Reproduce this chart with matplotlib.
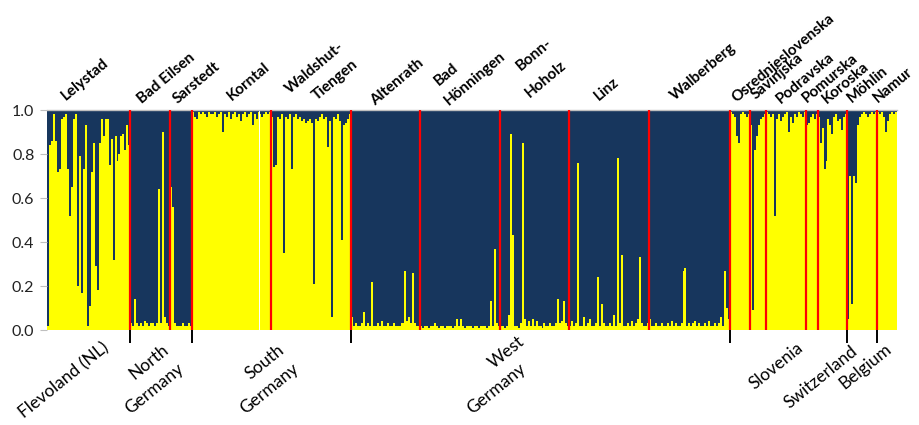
import matplotlib
matplotlib.use("Agg")
import matplotlib.pyplot as plt
import numpy as np

# ---------------- data: proportion of the "yellow" cluster per individual ----------------
lelystad = [0.02, 0.84, 0.86, 0.98, 0.86, 0.72, 0.73, 0.96, 0.97, 0.98, 0.73, 0.52, 0.65, 0.96,
            0.98, 0.20, 0.79, 0.17, 0.73, 0.93, 0.02, 0.11, 0.72, 0.85, 0.29, 0.18, 0.85, 0.96,
            0.88, 0.96, 0.96, 0.75, 0.87, 0.32, 0.88, 0.77, 0.80, 0.88, 0.89, 0.82, 0.93, 0.84]
bad_eilsen = [0.03, 0.02, 0.14, 0.03, 0.02, 0.03, 0.02, 0.04, 0.03, 0.02, 0.03, 0.03, 0.02, 0.03,
              0.64, 0.03, 0.90, 0.06, 0.03, 0.02]
sarstedt = [0.65, 0.56, 0.03, 0.02, 0.02, 0.02, 0.03, 0.02, 0.02, 0.03, 0.02]
korntal = [0.99, 0.97, 0.96, 0.99, 0.98, 0.99, 0.98, 0.97, 0.99, 0.98, 0.98, 0.99, 0.97, 0.98,
           0.99, 0.90, 0.98, 0.97, 0.99, 0.96, 0.98, 0.99, 0.97, 0.98, 0.95, 0.98, 0.99, 0.97,
           0.98, 0.99, 0.93, 0.98, 0.96, 0.99, 0.98, 0.97, 0.98, 0.99, 0.98, 0.99]
waldshut = [0.97, 0.74, 0.75, 0.97, 0.96, 0.98, 0.35, 0.97, 0.96, 0.98, 0.73, 0.97, 0.98, 0.96,
            0.97, 0.95, 0.96, 0.94, 0.95, 0.96, 0.94, 0.21, 0.96, 0.95, 0.97, 0.98, 0.96, 0.97,
            0.83, 0.95, 0.06, 0.97, 0.96, 0.98, 0.95, 0.41, 0.93, 0.94, 0.96, 0.98]
altenrath = [0.06, 0.02, 0.03, 0.02, 0.02, 0.03, 0.08, 0.02, 0.03, 0.02, 0.22, 0.02, 0.02, 0.03,
             0.02, 0.04, 0.02, 0.02, 0.03, 0.02, 0.02, 0.03, 0.02, 0.02, 0.02, 0.03, 0.03, 0.27,
             0.04, 0.06, 0.03, 0.26, 0.03, 0.02, 0.02]
bad_hoenningen = [0.02, 0.01, 0.02, 0.02, 0.01, 0.02, 0.02, 0.03, 0.02, 0.01, 0.02, 0.02, 0.01, 0.02,
                  0.02, 0.02, 0.01, 0.02, 0.05, 0.02, 0.05, 0.02, 0.01, 0.02, 0.02, 0.02, 0.01, 0.02,
                  0.02, 0.01, 0.02, 0.02, 0.02, 0.01, 0.02, 0.13, 0.02, 0.37, 0.03, 0.02]
bonn_hoholz = [0.02, 0.02, 0.01, 0.02, 0.07, 0.89, 0.43, 0.02, 0.02, 0.01, 0.03, 0.85, 0.05, 0.02,
               0.04, 0.02, 0.05, 0.02, 0.04, 0.02, 0.02, 0.01, 0.03, 0.02, 0.02, 0.03, 0.02, 0.02,
               0.03, 0.14, 0.03, 0.04, 0.13, 0.03, 0.02]
linz = [0.02, 0.04, 0.02, 0.03, 0.76, 0.02, 0.02, 0.06, 0.02, 0.03, 0.05, 0.02, 0.02, 0.03,
        0.24, 0.02, 0.12, 0.03, 0.02, 0.02, 0.03, 0.02, 0.07, 0.02, 0.78, 0.03, 0.34, 0.02,
        0.02, 0.03, 0.02, 0.04, 0.02, 0.03, 0.05, 0.33, 0.03, 0.02, 0.02, 0.03]
walberberg = [0.05, 0.02, 0.02, 0.03, 0.02, 0.02, 0.03, 0.02, 0.02, 0.03, 0.02, 0.04, 0.02, 0.03,
              0.02, 0.02, 0.03, 0.27, 0.28, 0.02, 0.03, 0.02, 0.03, 0.04, 0.02, 0.03, 0.02, 0.02,
              0.03, 0.02, 0.04, 0.02, 0.02, 0.03, 0.02, 0.03, 0.06, 0.02, 0.27, 0.10, 0.05]
osrednjeslovenska = [0.99, 0.98, 0.97, 0.88, 0.85, 0.98, 0.99, 0.98, 0.97, 0.98]
savinjska = [0.93, 0.09, 0.82, 0.88, 0.93, 0.96, 0.97, 0.98]
podravska = [0.99, 0.98, 0.97, 0.98, 0.52, 0.96, 0.98, 0.95, 0.97, 0.98, 0.99, 0.90, 0.97, 0.94,
             0.98, 0.97, 0.99, 0.98, 0.97, 0.99]
pomurska = [0.93, 0.94, 0.97, 0.98, 0.96, 0.98]
koroska = [0.97, 0.85, 0.92, 0.73, 0.77, 0.96, 0.93, 0.89, 0.97, 0.98, 0.95, 0.96, 0.91, 0.97, 0.98]
moehlin = [0.05, 0.70, 0.12, 0.70, 0.67, 0.93, 0.97, 0.98, 0.99, 0.98, 0.97, 0.98, 0.99, 0.98, 0.99]
namur = [0.99, 0.98, 0.99, 0.97, 0.90, 0.95, 0.98, 0.99, 0.98, 0.99]

population_names = ["Lelystad", "Bad Eilsen", "Sarstedt", "Korntal", "Waldshut-\nTiengen",
                    "Altenrath", "Bad\nHönningen", "Bonn-\nHoholz", "Linz", "Walberberg",
                    "Osrednjeslovenska", "Savinjska", "Podravska", "Pomurska", "Koroska",
                    "Möhlin", "Namur"]
population_values = [lelystad, bad_eilsen, sarstedt, korntal, waldshut, altenrath, bad_hoenningen,
                     bonn_hoholz, linz, walberberg, osrednjeslovenska, savinjska, podravska,
                     pomurska, koroska, moehlin, namur]
region_names = ["Flevoland (NL)", "North\nGermany", "South\nGermany", "West\nGermany",
                "Slovenia", "Switzerland", "Belgium"]
# number of populations belonging to each region (in order)
region_pop_counts = [1, 2, 2, 5, 5, 1, 1]
y_ticks = [0.0, 0.2, 0.4, 0.6, 0.8, 1.0]

# ---------------- figure ----------------
W, H = 920, 425
fig = plt.figure(figsize=(W / 100, H / 100), dpi=100)
ax = fig.add_axes([47 / W, 95 / H, 850 / W, 220 / H])

def px(x, y):
    return x / W, 1 - y / H

YELLOW = "#FFFF00"
NAVY = "#17365D"

yellow = np.concatenate([np.asarray(v, float) for v in population_values])
N = len(yellow)
xs = np.arange(N) + 0.5
ax.bar(xs, yellow, width=1.0, color=YELLOW, linewidth=0, antialiased=False)
ax.bar(xs, 1 - yellow, bottom=yellow, width=1.0, color=NAVY, linewidth=0, antialiased=False)

sizes = [len(v) for v in population_values]
bounds = np.cumsum(sizes)
ax.vlines(bounds[:-1], 0, 1, color="red", linewidth=1.6, zorder=3)

# region boundary ticks
region_ends = np.cumsum(region_pop_counts)
region_bounds = [bounds[i - 1] for i in region_ends[:-1]]

ax.set_xlim(0, N)
ax.set_ylim(0, 1)
ax.set_xticks(region_bounds)
ax.set_xticklabels([])
ax.tick_params(axis="x", length=9, width=1.4, color="black", direction="out")
ax.set_yticks(y_ticks)
ax.set_yticklabels([f"{t:.1f}" for t in y_ticks], fontsize=11.5, fontfamily="Lato", color="#222222")
ax.tick_params(axis="y", length=5, width=0.8, color="#BFBFBF", pad=4)
for s in ["left", "right", "bottom"]:
    ax.spines[s].set_visible(False)
ax.spines["top"].set_color("#BFBFBF")
ax.spines["top"].set_linewidth(1.0)

# population labels (top, bold, rotated)
top_font = dict(fontfamily="Lato", fontweight="bold", fontsize=11, rotation=40,
                rotation_mode="anchor", ha="left", va="baseline", color="black")
top_pos = {
    "Lelystad": (66, 101), "Bad Eilsen": (142, 104), "Sarstedt": (178, 104),
    "Korntal": (232, 101), "Waldshut-": (290, 94), "Tiengen": (317, 101),
    "Altenrath": (375, 106), "Bad": (439, 86), "Hönningen": (449, 106),
    "Bonn-": (521, 71), "Hoholz": (530, 98), "Linz": (599, 101), "Walberberg": (675, 101),
    "Osrednjeslovenska": (736, 103), "Savinjska": (756, 100), "Podravska": (781, 104),
    "Pomurska": (807, 103), "Koroska": (827, 104), "Möhlin": (852, 103), "Namur": (878, 103),
}
for name in population_names:
    for line in name.split("\n"):
        fig.text(*px(*top_pos[line]), line, **top_font)

# region labels (bottom, rotated)
bot_font = dict(fontfamily="Lato", fontsize=12.5, rotation=39, rotation_mode="anchor",
                ha="left", va="baseline", color="black")
bot_pos = {
    "Flevoland (NL)": [(24, 419)], "North\nGermany": [(134, 380), (130, 415)],
    "South\nGermany": [(250, 380), (245, 415)], "West\nGermany": [(494, 369), (472, 415)],
    "Slovenia": [(754, 390)], "Switzerland": [(789, 409)], "Belgium": [(844, 390)],
}
for name in region_names:
    for line, p in zip(name.split("\n"), bot_pos[name]):
        fig.text(*px(*p), line, **bot_font)

fig.savefig("out.png", dpi=100)
